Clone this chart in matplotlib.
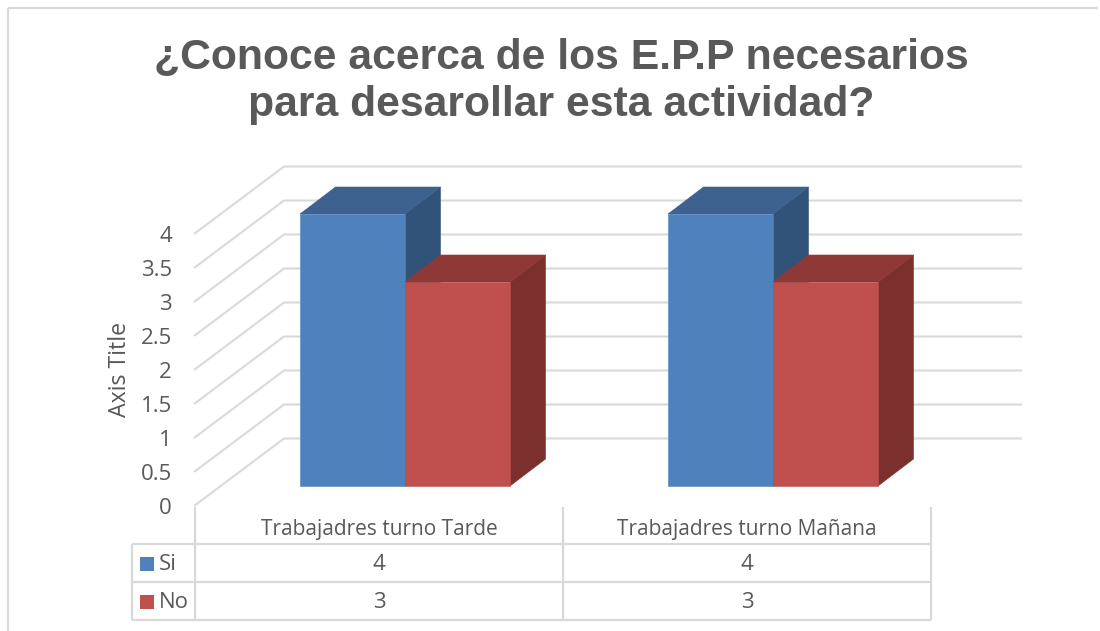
import matplotlib
matplotlib.use("Agg")
import matplotlib.pyplot as plt
from matplotlib.patches import Polygon, Rectangle
from matplotlib.lines import Line2D
from matplotlib.transforms import Affine2D

title = "¿Conoce acerca de los E.P.P necesarios\npara desarollar esta actividad?"
categories = ["Trabajadres turno Tarde", "Trabajadres turno Mañana"]
series_names = ["Si", "No"]
si_values = [4, 4]
no_values = [3, 3]
y_ticks = [0, 0.5, 1, 1.5, 2, 2.5, 3, 3.5, 4]
y_tick_labels = ["0", "0.5", "1", "1.5", "2", "2.5", "3", "3.5", "4"]
axis_title = "Axis Title"

W, H = 1100, 631
GROUP_STEP = 368.0   # px between groups
UNIT = 68.0          # px per value unit
X0, Y0 = 405.0, 486.0  # px of first group centre / bar base
TEXT = "#595959"
GRID = "#d9d9d9"
SANS = "Open Sans"
FS = 15.0

fig = plt.figure(figsize=(W / 100, H / 100), dpi=100, facecolor="white")
ax = fig.add_axes([0, 0, 1, 1])
ax.set_xlim(-X0 / GROUP_STEP, (W - X0) / GROUP_STEP)
ax.set_ylim((Y0 - H) / UNIT, Y0 / UNIT)
ax.axis("off")
px = Affine2D().scale(1 / W, -1 / H).translate(0, 1) + fig.transFigure

def pline(xs, ys, lw=1.6, color=GRID, z=1):
    ax.add_line(Line2D(xs, ys, transform=px, color=color, lw=lw, zorder=z,
                       solid_capstyle="butt", clip_on=False))

# outer chart frame
pline([8, 8], [631, 8], lw=1.6)
pline([8, 1098], [8, 8], lw=1.6)

# 3D gridlines: value -> px on the side wall and back wall
dx_wall_l, dx_wall_r = 194, 284
axis_zero = 506.0
back_zero = 438.5
for t, lab in zip(y_ticks, y_tick_labels):
    yf = axis_zero - t * UNIT
    yb = back_zero - t * UNIT
    pline([dx_wall_l, dx_wall_r, 1022], [yf, yb, yb], lw=1.5)
    ax.text(172, yf + 3.0, lab, transform=px, ha="right", va="center", fontsize=FS + 1,
            color=TEXT, family=SANS)

ax.text(120, 369, axis_title, transform=px, rotation=90, ha="center", va="center",
        fontsize=16.7, color=TEXT, family=SANS)

# 3D bars
BAR_W = 105.0 / GROUP_STEP
DX = 35.5 / GROUP_STEP
DY = 27.0 / UNIT
styles = [("#4F81BD", "#3D6290", "#315379"), ("#C0504D", "#8F3936", "#7B302E")]

def bar3d(x_left, value, colors, z):
    front, top, side = colors
    x_r = x_left + BAR_W
    e = dict(lw=0.4, joinstyle="miter", zorder=z)
    ax.add_patch(Polygon([(x_r, 0), (x_r + DX, DY), (x_r + DX, value + DY), (x_r, value)],
                         facecolor=side, edgecolor=side, **e))
    ax.add_patch(Polygon([(x_left, value), (x_left + DX, value + DY), (x_r + DX, value + DY), (x_r, value)],
                         facecolor=top, edgecolor=top, **e))
    ax.add_patch(Rectangle((x_left, 0), BAR_W, value, facecolor=front, edgecolor=front, **e))

for i in range(len(categories)):
    bar3d(i - BAR_W, si_values[i], styles[0], 3 + i)
    bar3d(i, no_values[i], styles[1], 3.5 + i)

# data table
cols = [132, 195, 563, 931]
rows = [544, 582, 620]
for x in cols[1:]:
    pline([x, x], [507, rows[-1]], lw=1.6)
pline([cols[0], cols[0]], [rows[0], rows[-1]], lw=1.6)
for y in rows:
    pline([cols[0], cols[-1]], [y, y], lw=1.6)

for i, c in enumerate(categories):
    ax.text((cols[i + 1] + cols[i + 2]) / 2, 530, c, transform=px, ha="center", va="center",
            fontsize=FS, color=TEXT, family=SANS)

for r, (name, vals, st) in enumerate(zip(series_names, [si_values, no_values], styles)):
    yc = (rows[r] + rows[r + 1]) / 2 + 0.5
    ax.add_patch(Rectangle((140, yc - 7), 14, 14, transform=px, facecolor=st[0], edgecolor="none", zorder=4))
    ax.text(159, yc + 0.5, name, transform=px, ha="left", va="center", fontsize=FS + 1, color=TEXT, family=SANS)
    for i, v in enumerate(vals):
        ax.text((cols[i + 1] + cols[i + 2]) / 2, yc + 1, str(v), transform=px, ha="center", va="center",
                fontsize=FS + 1, color=TEXT, family=SANS)

ax.text(561, 81.5, title, transform=px, ha="center", va="center", fontsize=30.75, fontweight="bold",
        color=TEXT, family="Liberation Sans", linespacing=1.2)

fig.savefig("out.png", dpi=100, facecolor="white")
